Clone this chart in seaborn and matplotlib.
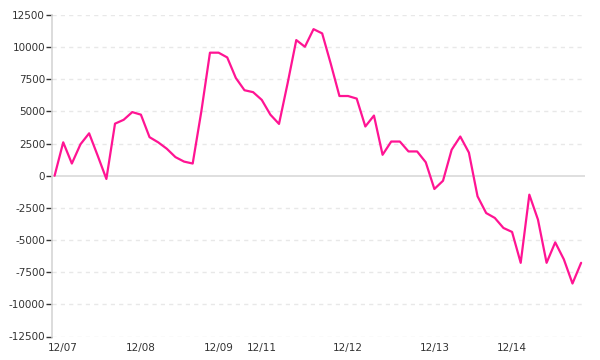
import matplotlib
matplotlib.use("Agg")
import matplotlib.pyplot as plt
import seaborn as sns
import pandas as pd
import numpy as np

values = [0, 2600, 950, 2450, 3300, 1550, -250, 4050, 4350, 4950,
          4750, 3000, 2600, 2100, 1450, 1100, 950, 5000, 9570, 9570,
          9200, 7600, 6650, 6500, 5900, 4750, 4030, 7200, 10550, 10030,
          11400, 11070, 8700, 6200, 6200, 6000, 3830, 4680, 1630, 2660,
          2660, 1890, 1890, 1050, -1030, -390, 2020, 3050, 1800, -1600,
          -2900, -3280, -4060, -4370, -6770, -1470, -3410, -6770, -5180, -6500,
          -8380, -6770]
tick_labels = ["12/07", "12/08", "12/09", "12/11", "12/12", "12/13", "12/14"]
tick_index = [1, 10, 19, 24, 34, 44, 53]
y_ticks = [-12500, -10000, -7500, -5000, -2500, 0, 2500, 5000, 7500, 10000, 12500]

df = pd.DataFrame({"i": np.arange(len(values)), "v": values})

sns.set_theme(style="white")
plt.rcParams['font.family'] = ['DejaVu Sans']

fig = plt.figure(figsize=(6, 3.6), dpi=100)
ax = fig.add_axes([52/600, 1-336.5/360, (585-52)/600, (336.5-15)/360])

for yv in y_ticks:
    if yv == 0:
        continue
    ax.axhline(yv, color="#e8e8e8", lw=1, ls=(0, (3, 3)), zorder=0)
ax.axhline(0, color="#d9d9d9", lw=1.2, zorder=1)

sns.lineplot(data=df, x="i", y="v", ax=ax, color="#ff1493", lw=1.6, zorder=3)

ax.set_xlim(-0.3, 61.45)
ax.set_ylim(-12500, 12500)
ax.set_yticks(y_ticks)
ax.set_yticklabels([str(t) for t in y_ticks])
ax.set_xticks(tick_index)
ax.set_xticklabels(tick_labels)
ax.set_xlabel("")
ax.set_ylabel("")

for s in ["top", "right", "bottom"]:
    ax.spines[s].set_visible(False)
ax.spines["left"].set_color("#d6d6d6")
ax.spines["left"].set_linewidth(1.2)

ax.tick_params(axis="y", left=True, length=4, width=1, color="#333333",
               labelsize=7.5, labelcolor="#333333", pad=1)
ax.tick_params(axis="x", bottom=False, length=0, labelsize=7.5,
               labelcolor="#333333", pad=5)

fig.savefig("out.png", dpi=100)
